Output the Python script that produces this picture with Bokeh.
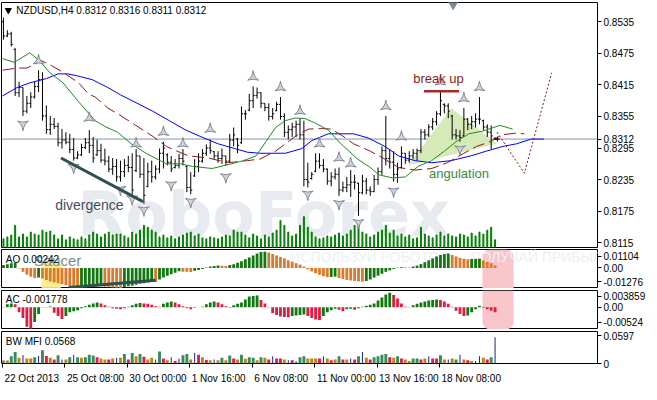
from bokeh.plotting import figure
from bokeh.models import (Range1d, FixedTicker, CustomJSTickFormatter, Label, Span,
                          BoxAnnotation, ColumnDataSource)
from bokeh.layouts import column
from bokeh.embed import file_html
from bokeh.resources import INLINE
from bokeh.core.properties import value

FONT = "Liberation Sans"

TITLE = "NZDUSD,H4  0.8312 0.8316 0.8311 0.8312"
LAST_PRICE = 0.8312

OPEN = [0.8535,0.8508,0.8512,0.8482,0.8400,0.8410,0.8365,0.8380,0.8392,0.8412,
        0.8425,0.8356,0.8330,0.8340,0.8336,0.8305,0.8310,0.8306,0.8292,0.8276,
        0.8282,0.8296,0.8305,0.8300,0.8282,0.8290,0.8272,0.8270,0.8255,0.8260,
        0.8240,0.8250,0.8262,0.8258,0.8252,0.8280,0.8245,0.8222,0.8250,0.8240,
        0.8255,0.8285,0.8282,0.8268,0.8258,0.8262,0.8275,0.8260,0.8220,0.8242,
        0.8260,0.8270,0.8285,0.8295,0.8288,0.8280,0.8275,0.8280,0.8270,0.8310,
        0.8312,0.8305,0.8360,0.8367,0.8385,0.8395,0.8400,0.8380,0.8372,0.8355,
        0.8366,0.8378,0.8355,0.8325,0.8330,0.8335,0.8340,0.8320,0.8235,0.8237,
        0.8251,0.8270,0.8262,0.8255,0.8232,0.8240,0.8245,0.8215,0.8220,0.8225,
        0.8230,0.8228,0.8210,0.8232,0.8215,0.8212,0.8235,0.8250,0.8290,0.8275,
        0.8268,0.8245,0.8258,0.8285,0.8272,0.8280,0.8285,0.8290,0.8325,0.8320,
        0.8335,0.8345,0.8360,0.8378,0.8375,0.8356,0.8320,0.8318,0.8318,0.8350,
        0.8340,0.8345,0.8350,0.8347,0.8335,0.8325,0.8312]
HIGH = [0.8543,0.8519,0.8516,0.8485,0.8421,0.8410,0.8394,0.8401,0.8421,0.8443,
        0.8439,0.8376,0.8356,0.8352,0.8343,0.8331,0.8325,0.8322,0.8314,0.8289,
        0.8303,0.8314,0.8329,0.8316,0.8311,0.8303,0.8294,0.8280,0.8276,0.8274,
        0.8271,0.8274,0.8280,0.8285,0.8293,0.8280,0.8276,0.8267,0.8271,0.8262,
        0.8294,0.8307,0.8285,0.8280,0.8274,0.8284,0.8293,0.8262,0.8249,0.8274,
        0.8285,0.8293,0.8302,0.8311,0.8289,0.8289,0.8294,0.8280,0.8322,0.8334,
        0.8314,0.8374,0.8367,0.8398,0.8412,0.8410,0.8401,0.8380,0.8380,0.8371,
        0.8383,0.8392,0.8361,0.8338,0.8343,0.8347,0.8352,0.8347,0.8267,0.8249,
        0.8285,0.8285,0.8274,0.8256,0.8249,0.8256,0.8258,0.8231,0.8240,0.8253,
        0.8244,0.8229,0.8244,0.8238,0.8222,0.8244,0.8258,0.8298,0.8356,0.8293,
        0.8289,0.8267,0.8298,0.8285,0.8289,0.8293,0.8294,0.8331,0.8331,0.8340,
        0.8352,0.8365,0.8403,0.8380,0.8380,0.8358,0.8331,0.8329,0.8371,0.8352,
        0.8356,0.8361,0.8392,0.8349,0.8340,0.8338,0.8316]
LOW = [0.8501,0.8506,0.8488,0.8394,0.8392,0.8356,0.8361,0.8371,0.8389,0.8401,
       0.8347,0.8322,0.8320,0.8331,0.8298,0.8294,0.8302,0.8285,0.8271,0.8274,
       0.8280,0.8293,0.8285,0.8267,0.8280,0.8267,0.8262,0.8249,0.8244,0.8231,
       0.8231,0.8240,0.8249,0.8207,0.8249,0.8238,0.8189,0.8220,0.8229,0.8235,
       0.8247,0.8256,0.8262,0.8249,0.8256,0.8256,0.8262,0.8211,0.8207,0.8240,
       0.8249,0.8267,0.8280,0.8284,0.8274,0.8267,0.8265,0.8262,0.8267,0.8298,
       0.8285,0.8303,0.8349,0.8365,0.8371,0.8389,0.8371,0.8365,0.8347,0.8349,
       0.8365,0.8349,0.8316,0.8311,0.8316,0.8316,0.8311,0.8222,0.8220,0.8235,
       0.8249,0.8256,0.8249,0.8225,0.8222,0.8235,0.8204,0.8211,0.8211,0.8202,
       0.8216,0.8166,0.8207,0.8207,0.8204,0.8211,0.8225,0.8244,0.8262,0.8256,
       0.8231,0.8229,0.8256,0.8265,0.8267,0.8274,0.8271,0.8285,0.8311,0.8316,
       0.8329,0.8338,0.8356,0.8361,0.8352,0.8311,0.8311,0.8307,0.8316,0.8329,
       0.8331,0.8334,0.8340,0.8329,0.8316,0.8293,0.8311]
CLOSE = [0.8508,0.8512,0.8492,0.8400,0.8410,0.8365,0.8380,0.8392,0.8412,0.8425,
         0.8356,0.8330,0.8340,0.8336,0.8305,0.8310,0.8306,0.8292,0.8276,0.8282,
         0.8296,0.8305,0.8300,0.8276,0.8290,0.8272,0.8270,0.8255,0.8260,0.8240,
         0.8250,0.8262,0.8258,0.8215,0.8280,0.8245,0.8205,0.8250,0.8240,0.8255,
         0.8285,0.8295,0.8268,0.8255,0.8262,0.8275,0.8270,0.8220,0.8215,0.8260,
         0.8270,0.8285,0.8295,0.8290,0.8280,0.8275,0.8280,0.8270,0.8310,0.8320,
         0.8300,0.8360,0.8360,0.8385,0.8395,0.8400,0.8380,0.8372,0.8355,0.8360,
         0.8378,0.8355,0.8325,0.8330,0.8335,0.8340,0.8320,0.8235,0.8230,0.8245,
         0.8270,0.8262,0.8255,0.8232,0.8240,0.8245,0.8215,0.8220,0.8225,0.8230,
         0.8230,0.8210,0.8232,0.8215,0.8212,0.8235,0.8250,0.8290,0.8275,0.8268,
         0.8245,0.8255,0.8285,0.8272,0.8280,0.8285,0.8290,0.8325,0.8320,0.8335,
         0.8345,0.8360,0.8385,0.8375,0.8365,0.8320,0.8318,0.8315,0.8350,0.8340,
         0.8345,0.8350,0.8350,0.8335,0.8325,0.8318,0.8312]
VOLUME = [900,1100,1300,2300,1100,1400,1100,1600,1400,1300,
          1800,1600,1700,1300,900,1300,800,1100,900,800,
          1100,900,1300,1600,1400,1100,1400,1600,1300,1400,
          1400,1200,1000,1600,1400,1800,2300,2100,1800,1600,
          1100,1300,1000,1200,900,1100,1300,1500,1600,1200,
          1400,1000,900,1100,1000,900,1100,1300,1200,1800,
          1600,1600,1300,1000,1400,1200,900,1300,1100,1500,
          1800,2800,2300,1600,1200,1400,2300,3200,2100,1600,
          1100,900,1000,1200,1100,1300,1500,1200,1400,1800,
          2300,2600,1600,1400,1100,1300,1600,1800,2300,1500,
          1800,1200,1400,1100,1300,900,1000,2100,1400,1200,
          1000,1300,1600,1200,1400,1200,1100,1400,1300,1100,
          1500,1200,1600,1400,1800,2100,800]

# Alligator lines (bar position, price)
JAW_X = [-0.25,3.5,6.75,11,14,16.5,19,22.75,26.75,30,33.5,38.25,42.5,46.75,50.75,
         55,59.25,62.5,65.75,72.25,76.5,79,83.25,89.75,93.5,97.75,101.25,105.5,
         109.75,114.75,119.75,123.75,128,131.5,135.25,138.5]
JAW_P = [0.8394,0.8410,0.8419,0.8427,0.8436,0.8436,0.8432,0.8425,0.8410,0.8396,
         0.8383,0.8365,0.8347,0.8329,0.8316,0.8303,0.8294,0.8287,0.8285,0.8285,
         0.8294,0.8309,0.8322,0.8322,0.8314,0.8298,0.8280,0.8271,0.8267,0.8271,
         0.8280,0.8289,0.8298,0.8303,0.8312,0.8312]
TEETH_X = [-0.25,3.5,6,9.75,12.25,15.25,19.25,21.75,23.5,26.75,29.75,33.5,38.5,41.75,
           45.75,47.5,52.5,57.5,62.5,65.75,69.75,72.25,75.75,78.25,81.5,84,86.5,89.75,
           94,97.25,101.25,105.5,109.75,113.75,118,121.25,124.75,127.75,131,133.5]
TEETH_P = [0.8443,0.8447,0.8447,0.8461,0.8452,0.8439,0.8419,0.8398,0.8392,0.8371,
           0.8358,0.8340,0.8316,0.8298,0.8285,0.8280,0.8276,0.8267,0.8271,0.8274,
           0.8289,0.8303,0.8322,0.8331,0.8332,0.8331,0.8320,0.8303,0.8289,0.8276,
           0.8258,0.8253,0.8256,0.8267,0.8285,0.8298,0.8307,0.8320,0.8323,0.8322]
LIPS_X = [-0.25,2.75,6.75,9.25,11.75,15.25,19.25,23.5,26,29.25,32.75,36.75,41.75,45.25,
          48.5,53.5,58.5,61.5,64.75,67.25,69.75,72.25,74.75,77.25,79.75,83.25,86.5,
          90.75,94,96.25,99.75,103,106.25,109.75,113,116,119.25,122.75,127.25,130.5]
LIPS_P = [0.8465,0.8458,0.8476,0.8461,0.8439,0.8419,0.8383,0.8347,0.8336,0.8325,
          0.8303,0.8284,0.8265,0.8265,0.8260,0.8256,0.8265,0.8271,0.8280,0.8307,
          0.8334,0.8347,0.8352,0.8351,0.8343,0.8329,0.8303,0.8274,0.8258,0.8244,
          0.8238,0.8240,0.8260,0.8271,0.8289,0.8307,0.8322,0.8327,0.8338,0.8331]

FRACT_UP_X = [9,22,34,41,46,53,64,71,76,81,86,89,98,102,112,118,122]
FRACT_UP_P = [0.8461,0.8352,0.8303,0.8325,0.8303,0.8331,0.8430,0.8410,0.8365,0.8303,
              0.8276,0.8265,0.8374,0.8316,0.8421,0.8389,0.8410]
FRACT_DN_X = [5,18,30,33,36,43,48,57,78,86,91,100,117]
FRACT_DN_P = [0.8340,0.8258,0.8216,0.8198,0.8177,0.8225,0.8193,0.8240,0.8207,0.8189,
              0.8153,0.8213,0.8293]

FORECAST_X = [126.5,133.5,140.5]
FORECAST_P = [0.8325,0.8247,0.8438]
DIVERGENCE_X = [14.75,35.75]
DIVERGENCE_P = [0.8276,0.8193]
BREAKUP_X = [107.75,116.75]
BREAKUP_P = [0.8403,0.8403]
ANGULATION_X = [103.75,114.75,126.5]
ANGULATION_P = [0.8262,0.8371,0.8303]

AO = [0.00267,0.00356,0.00445,0.00490,-0.00045,-0.00356,-0.00623,-0.00801,-0.00935,-0.00890,
      -0.00979,-0.01113,-0.01246,-0.01335,-0.01424,-0.01513,-0.01602,-0.01691,-0.01780,-0.01825,
      -0.01780,-0.01762,-0.01744,-0.01727,-0.01709,-0.01691,-0.01736,-0.01780,-0.01807,-0.01825,
      -0.01851,-0.01780,-0.01691,-0.01647,-0.01558,-0.01469,-0.01424,-0.01335,-0.01246,-0.01291,
      -0.01068,-0.00890,-0.00712,-0.00579,-0.00445,-0.00312,-0.00338,-0.00356,-0.00374,-0.00267,
      -0.00178,-0.00089,0.00045,0.00134,0.00178,0.00223,0.00205,0.00178,0.00267,0.00356,
      0.00490,0.00623,0.00801,0.00979,0.01157,0.01335,0.01469,0.01513,0.01424,0.01291,
      0.01157,0.01024,0.00890,0.00712,0.00579,0.00445,0.00312,0.00134,-0.00134,-0.00312,
      -0.00490,-0.00623,-0.00757,-0.00846,-0.00828,-0.00801,-0.00935,-0.01024,-0.01113,-0.01157,
      -0.01202,-0.01246,-0.01264,-0.01202,-0.01068,-0.00890,-0.00712,-0.00534,-0.00356,-0.00223,
      -0.00089,0.00027,0.00071,0.00053,0.00036,0.00134,0.00223,0.00356,0.00534,0.00712,
      0.00890,0.01068,0.01202,0.01291,0.01335,0.01202,0.01068,0.00935,0.00846,0.00801,
      0.00828,0.00846,0.00863,0.00712,0.00579,0.00445,0.00242]
AC = [0.00010,0.00102,0.00136,0.00102,-0.00170,-0.00374,-0.00680,-0.00748,-0.00510,-0.00238,
      -0.00010,0.00010,0.00027,-0.00187,-0.00306,-0.00408,-0.00306,-0.00170,-0.00136,-0.00102,
      -0.00034,0.00034,0.00085,0.00136,0.00170,0.00136,0.00068,0.00017,-0.00034,-0.00051,
      -0.00068,-0.00034,0.00017,0.00068,0.00119,0.00153,0.00136,0.00119,0.00085,0.00034,
      0.00017,0.00119,0.00170,0.00204,0.00170,0.00102,0.00034,-0.00034,-0.00068,-0.00017,
      0.00000,0.00017,0.00102,0.00170,0.00204,0.00170,0.00102,0.00034,-0.00017,0.00068,
      0.00119,0.00170,0.00272,0.00374,0.00391,0.00408,0.00255,0.00136,0.00010,-0.00204,
      -0.00272,-0.00323,-0.00340,-0.00350,-0.00306,-0.00289,-0.00272,-0.00255,-0.00306,-0.00374,
      -0.00425,-0.00442,-0.00306,-0.00170,-0.00102,-0.00051,-0.00085,-0.00136,-0.00068,-0.00051,
      -0.00085,-0.00034,0.00017,0.00051,0.00085,0.00136,0.00238,0.00340,0.00442,0.00510,
      0.00425,0.00306,0.00136,0.00017,0.00007,0.00068,0.00119,0.00170,0.00204,0.00238,
      0.00255,0.00272,0.00255,0.00204,0.00119,0.00017,-0.00119,-0.00238,-0.00306,-0.00289,
      -0.00170,-0.00068,0.00051,-0.00017,-0.00068,-0.00119,-0.001778]
MFI = [0.0062,0.0062,0.0158,0.0246,0.0123,0.0185,0.0109,0.0109,0.0137,0.0164,
       0.0287,0.0164,0.0123,0.0088,0.0178,0.0088,0.0088,0.0137,0.0191,0.0137,
       0.0123,0.0137,0.0191,0.0170,0.0137,0.0109,0.0088,0.0088,0.0109,0.0123,
       0.0123,0.0205,0.0088,0.0226,0.0158,0.0205,0.0144,0.0088,0.0123,0.0088,
       0.0260,0.0109,0.0068,0.0137,0.0055,0.0109,0.0178,0.0205,0.0088,0.0226,
       0.0191,0.0137,0.0076,0.0068,0.0088,0.0068,0.0123,0.0068,0.0170,0.0109,
       0.0088,0.0191,0.0103,0.0137,0.0123,0.0068,0.0137,0.0123,0.0088,0.0158,
       0.0109,0.0109,0.0088,0.0068,0.0068,0.0055,0.0137,0.0158,0.0109,0.0109,
       0.0109,0.0109,0.0158,0.0109,0.0068,0.0088,0.0158,0.0088,0.0088,0.0109,
       0.0088,0.0158,0.0246,0.0123,0.0088,0.0137,0.0158,0.0191,0.0205,0.0137,
       0.0123,0.0158,0.0109,0.0088,0.0055,0.0109,0.0109,0.0088,0.0109,0.0158,
       0.0109,0.0109,0.0178,0.0088,0.0088,0.0109,0.0088,0.0191,0.0088,0.0068,
       0.0055,0.0055,0.0158,0.0123,0.0088,0.0137,0.0568]
MFI_STATE = ("k b g g b n b b g n  g r b r g n b g n g  b g g g r b b r b n  "
             "b g r g b g r b b n  g r b n r n g g b n  r b r b n b g b g r  "
             "b g b g g b g b r n  r r b n r n g g b b  b r n b r b g r b n  "
             "r g n b r g g g g r  b g r b b g g r b n  r r g b n b g n b r  "
             "b n n b r g n").split()

PRICE_TICKS = [0.8535,0.8475,0.8415,0.8355,0.8312,0.8295,0.8235,0.8175,0.8115]
PRICE_LABELS = ["0.8535","0.8475","0.8415","0.8355","0.8312","0.8295","0.8235","0.8175","0.8115"]
AO_TICKS = [0.01104,0.0,-0.01276]
AO_LABELS = ["0.01104","0.00","-0.01276"]
AC_TICKS = [0.003859,0.0,-0.00524]
AC_LABELS = ["0.003859","0.00","-0.00524"]
MFI_TICKS = [0.0597,0.0]
MFI_LABELS = ["0.0597","0"]
TIME_TICKS = [-0.25,15.75,31.75,47.75,63.75,79.75,95.75,111.75]
TIME_LABELS = ["22 Oct 2013","25 Oct 08:00","30 Oct 00:00","1 Nov 16:00",
               "6 Nov 08:00","11 Nov 00:00","13 Nov 16:00","18 Nov 08:00"]

N = len(CLOSE)
idx = list(range(N))
X0, X1 = -0.5, 152.25
xr = Range1d(X0, X1)
FW = 596
PX_PER_BAR = FW / (X1 - X0)


def fmt(ticks, labels):
    return CustomJSTickFormatter(args=dict(vals=ticks, labs=labels), code="""
        for (let k = 0; k < vals.length; k++) {
            if (Math.abs(tick - vals[k]) < 1e-7) { return labs[k]; }
        }
        return "";
    """)


def panel(fh, yr, ticks, labels, top=2, bottom=0, xaxis=False):
    p = figure(frame_width=FW, frame_height=fh, x_range=xr, y_range=yr,
               output_backend="svg", toolbar_location=None,
               x_axis_location="below" if xaxis else None, y_axis_location="right",
               min_border=0, min_border_left=1, min_border_top=top,
               min_border_bottom=bottom, min_border_right=0)
    p.outline_line_color = "black"
    p.outline_line_width = 1
    p.grid.visible = False
    p.background_fill_color = "white"
    p.border_fill_color = "white"
    ax = p.yaxis[0]
    ax.ticker = FixedTicker(ticks=ticks)
    ax.formatter = fmt(ticks, labels)
    ax.axis_line_color = None
    ax.major_tick_line_color = "black"
    ax.major_tick_out = 4
    ax.major_tick_in = 0
    ax.minor_tick_out = 0
    ax.minor_tick_in = 0
    ax.major_label_standoff = 2
    ax.major_label_text_font = FONT
    ax.major_label_text_font_size = "10px"
    ax.major_label_text_color = "black"
    return p


def corner_label(p, x, y, text, size="10px", color="black"):
    p.add_layout(Label(x=x, y=y, text=text, text_font=FONT, text_font_size=size,
                       text_color=color, text_baseline="middle", text_align="left"))


# ---------------- main price panel ----------------
main = panel(245, Range1d(0.81058, 0.85717), PRICE_TICKS, PRICE_LABELS, top=2, bottom=2)
main.extra_y_ranges = {"vol": Range1d(0, 25400)}

main.text(x=[19.0], y=[0.8168], text=["RoboForex"], text_font=value("DejaVu Sans"),
          text_font_size="62px", text_font_style="bold", text_color="#E7EBEF",
          text_baseline="alphabetic", text_align="left")
main.patch(ANGULATION_X, ANGULATION_P, fill_color="#D6EAB8", line_color=None)
main.vbar(x=idx, top=VOLUME, bottom=0, width=0.25, color="#008000", y_range_name="vol")
main.add_layout(Span(location=LAST_PRICE, dimension="width", line_color="#8796A5",
                     line_width=1, level="underlay"))

src = ColumnDataSource(dict(x=idx, o=OPEN, h=HIGH, l=LOW, c=CLOSE,
                            xl=[i - 0.4 for i in idx], xr=[i + 0.4 for i in idx]))
main.segment(x0="x", y0="l", x1="x", y1="h", source=src, line_color="black", line_width=1)
main.segment(x0="xl", y0="o", x1="x", y1="o", source=src, line_color="black", line_width=1)
main.segment(x0="x", y0="c", x1="xr", y1="c", source=src, line_color="black", line_width=1)

main.line(JAW_X, JAW_P, line_color="#0000FF", line_width=1)
main.line(TEETH_X, TEETH_P, line_color="#8B1A1A", line_width=1, line_dash="12 5")
main.line(LIPS_X, LIPS_P, line_color="#228B22", line_width=1)

main.scatter(FRACT_UP_X, FRACT_UP_P, marker="triangle_pin", size=11,
             fill_color="#D0D4DA", line_color="#7E8893")
main.scatter(FRACT_DN_X, FRACT_DN_P, marker="triangle_pin", size=11, angle=3.14159,
             fill_color="#D0D4DA", line_color="#7E8893")

main.line(DIVERGENCE_X, DIVERGENCE_P, line_color="#2F4F4F", line_width=3)
main.line(BREAKUP_X, BREAKUP_P, line_color="#A52A2A", line_width=2.5)
main.line(FORECAST_X, FORECAST_P, line_color="#8B1A1A", line_width=1, line_dash="2 2")
main.scatter([126.6], [LAST_PRICE], marker="cross", size=5, line_color="black")
main.scatter([115.25], [0.8568], marker="inverted_triangle", size=9,
             fill_color="#7D8A97", line_color="#7D8A97")
main.scatter([1.25], [0.8557], marker="inverted_triangle", size=6,
             fill_color="black", line_color="black")

main.add_layout(Label(x=111.5, y=0.8428, text="break up", text_font=FONT,
                      text_font_size="13px", text_color="#8B1C1C",
                      text_align="center", text_baseline="middle"))
main.add_layout(Label(x=116.75, y=0.8247, text="angulation", text_font=FONT,
                      text_font_size="13px", text_color="#3A8A3A",
                      text_align="center", text_baseline="middle"))
main.add_layout(Label(x=13.25, y=0.8187, text="divergence", text_font=FONT,
                      text_font_size="14px", text_color="#3F4F58",
                      text_align="left", text_baseline="middle"))
corner_label(main, 3.3, 0.8557, TITLE)

# ---------------- AO panel ----------------
ao = panel(39, Range1d(-0.0190, 0.0171), AO_TICKS, AO_LABELS, top=0)
ao.text(x=[73.5], y=[0.0098], text=["ИСПОЛЬЗУЙ РОБОТОВ — ПОЛУЧАЙ ПРИБЫЛЬ"],
        text_font=value(FONT), text_font_size="14px", text_color="#EDF0F3",
        text_baseline="middle")
ao.add_layout(BoxAnnotation(left=9.75, right=14.75, top=0.0062, fill_color="#FCEB86",
                            fill_alpha=0.9, line_color=None, level="underlay"))
ao.add_layout(BoxAnnotation(left=122.75, right=130.75, fill_color="#F8C6CA", fill_alpha=1.0,
                            line_color=None, level="underlay",
                            border_radius=dict(top_left=8, top_right=8,
                                               bottom_right=0, bottom_left=0)))
ao_col = ["#127812" if (i == 0 or AO[i] > AO[i - 1]) else "#D97A2E" for i in idx]
ao.vbar(x=idx, top=AO, bottom=0, width=0.72, fill_color=ao_col, line_color=None)
ao.line([16.75, 39], [-0.0181, -0.0114], line_color="#2F4F4F", line_width=3)
ao.add_layout(Label(x=7.75, y=0.0069, text="Saucer", text_font=FONT, text_font_size="15px",
                    text_color="#7D8B96", text_baseline="middle"))
corner_label(ao, 0.6, 0.0078, "AO 0.00242")

# ---------------- AC panel ----------------
ac = panel(39, Range1d(-0.00775, 0.00585), AC_TICKS, AC_LABELS)
ac.add_layout(BoxAnnotation(left=122.75, right=130.75, fill_color="#F8C6CA", fill_alpha=1.0,
                            line_color=None, level="underlay",
                            border_radius=dict(top_left=0, top_right=0,
                                               bottom_right=8, bottom_left=8)))
ac_col = ["#127812" if (i == 0 or AC[i] > AC[i - 1]) else "#DC1E46" for i in idx]
ac.vbar(x=idx, top=AC, bottom=0, width=0.72, fill_color=ac_col, line_color=None)
corner_label(ac, 0.6, 0.0026, "AC -0.001778")

# ---------------- BW MFI panel ----------------
mfi = panel(32, Range1d(0, 0.069), MFI_TICKS, MFI_LABELS, bottom=19, xaxis=True)
MFI_COLORS = {"g": "#3A8C5C", "b": "#B8861B", "r": "#DC2050", "n": "#1A1A8C", "k": "#7F7F7F"}
wide = [i for i in idx if MFI_STATE[i] != "n"]
thin = [i for i in idx if MFI_STATE[i] == "n"]
mfi.vbar(x=wide, top=[MFI[i] for i in wide], bottom=0, width=0.75,
         fill_color=[MFI_COLORS[MFI_STATE[i]] for i in wide], line_color=None)
mfi.vbar(x=thin, top=[MFI[i] for i in thin], bottom=0, width=0.25,
         fill_color=MFI_COLORS["n"], line_color=None)
corner_label(mfi, 0.6, 0.0465, "BW MFI 0.0568")

# time axis: tick marks at the bar positions (minor ticks), left-aligned text
# emulated by putting each label's centre half its width to the right of its tick
CHAR_W = {"O": 7.78, "N": 7.22, "c": 5.0, "v": 5.0, "o": 5.56, "t": 2.78, " ": 2.78, ":": 2.78}
def text_w(s):
    return sum(CHAR_W.get(ch, 5.56) for ch in s)
label_centres = [t + (text_w(s) / 2 + 2) / PX_PER_BAR for t, s in zip(TIME_TICKS, TIME_LABELS)]

xa = mfi.xaxis[0]
xa.ticker = FixedTicker(ticks=label_centres, minor_ticks=TIME_TICKS)
xa.formatter = fmt(label_centres, TIME_LABELS)
xa.axis_line_color = None
xa.major_tick_out = 0
xa.major_tick_in = 0
xa.minor_tick_out = 4
xa.minor_tick_in = 0
xa.minor_tick_line_color = "black"
xa.major_label_standoff = 5
xa.major_label_text_font = FONT
xa.major_label_text_font_size = "10px"
xa.major_label_text_color = "black"

layout = column(main, ao, ac, mfi, spacing=0)
open("out.html", "w").write(file_html(layout, INLINE))
